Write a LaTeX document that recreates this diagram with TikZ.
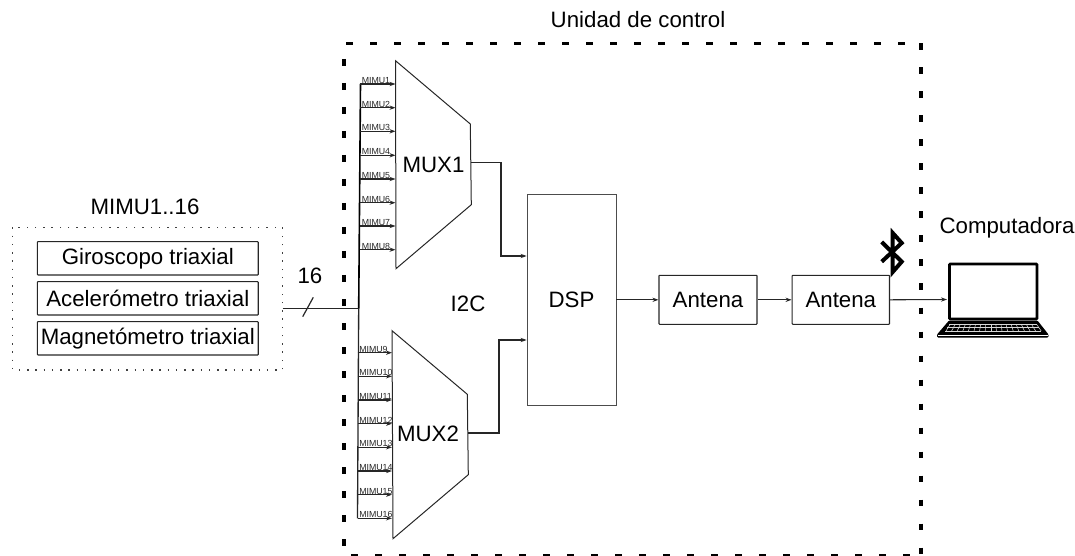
\documentclass[tikz,border=0pt]{standalone}
\usepackage{fontspec}
\setmainfont{Liberation Sans}
\usetikzlibrary{arrows.meta}
\tikzset{
  txt/.style={font=\fontsize{16.7}{18}\selectfont,inner sep=0pt},
  tiny/.style={font=\fontsize{6.6}{7}\selectfont,inner sep=0pt,text=black!85},
  blockbox/.style={draw=black!85,line width=0.8pt,rounded corners=0.5pt,txt,anchor=center},
  arrow/.style={line width=0.8pt,black!85,-{Stealth[length=4.5pt,width=3.2pt]}},
  wire/.style={line width=0.9pt,black!85},
  ctrl/.style={line width=2.6pt,dash pattern=on 5.2pt off 12.8pt}
}
\begin{document}
\begin{tikzpicture}[x=0.75pt,y=-0.75pt]
  \useasboundingbox (0,0) rectangle (1075,556);
  \draw[ctrl] (346,43.5) -- (921,43.5);
  \draw[ctrl] (921,43.5) -- (921,556);
  \draw[ctrl] (344,59) -- (344,556);
  \draw[ctrl] (351,555.5) -- (921,555.5);
  \node[txt] (control) at (638,20) {Unidad de control};
  \draw[black!75,line width=0.8pt,dash pattern=on 1.1pt off 5.1pt] (12.7,227.3) rectangle (282.7,370);
  \coordinate (mimuout) at (282.7,308.5);
  \node[txt] (mimu) at (145,207) {MIMU1..16};
  \node[blockbox,minimum width=165.7pt,minimum height=25pt] (giro) at (147.8,258.3) {Giroscopo triaxial};
  \node[blockbox,minimum width=165.7pt,minimum height=25pt] (acel) at (147.8,298.3) {Acelerómetro triaxial};
  \node[blockbox,minimum width=165.7pt,minimum height=25pt] (magn) at (147.8,338.3) {Magnetómetro triaxial};
  \coordinate (join) at (358.7,308.5);
  \coordinate (top) at (360.5,84);
  \coordinate (bot) at (357.5,518.3);
  \draw[wire] (mimuout) -- (join);
  \draw[line width=1.2pt] (join) -- (top);
  \draw[line width=1pt,black!85] (join) -- (bot);
  \coordinate (slasha) at (302.7,316.7);
  \coordinate (slashb) at (313.3,297.3);
  \draw[wire] (slasha) -- (slashb);
  \node[txt] (bus) at (310,276) {16};
  \node[txt] (i2c) at (468,304) {I2C};
  \foreach \y [count=\i] in {84,107.7,131.3,155.3,179,202.7,226,249.7} {
    \coordinate (a\i) at (360,\y);
    \coordinate (b\i) at (395.5,\y);
    \draw[arrow] (a\i) -- (b\i);
    \node[tiny,anchor=south west] (l\i) at (361.5,\y-0.3) {MIMU\i};
  }
  \foreach \y [count=\i from 9] in {352.7,376.3,400,423.7,447.3,471,494.7,518.3} {
    \coordinate (a\i) at (357.5,\y);
    \coordinate (b\i) at (392,\y);
    \draw[arrow] (a\i) -- (b\i);
    \node[tiny,anchor=south west] (l\i) at (359,\y-0.3) {MIMU\i};
  }
  \draw[line width=0.75pt,black!85] (395.5,60.7) -- (470.3,124) -- (471.3,204.7) -- (396,268.7) -- cycle;
  \draw[line width=0.75pt,black!85] (392,330.7) -- (467.3,394.3) -- (468.3,474.7) -- (393,538.7) -- cycle;
  \node[txt] (mux1) at (433.5,165) {MUX1};
  \node[txt] (mux2) at (428,434) {MUX2};
  \coordinate (out1) at (470.7,162.7);
  \coordinate (out2) at (468,433);
  \node[draw=black!70,line width=0.6pt,minimum width=66.75pt,minimum height=158.25pt,txt] (dsp) at (571.5,299.5) {DSP};
  \draw[arrow] (out1) -- (501,162.7) |- (dsp.west |- 0,256);
  \draw[arrow] (out2) -- (499,433) |- (dsp.west |- 0,340);
  \node[blockbox,minimum width=73.5pt,minimum height=36.75pt] (ant1) at (708,299.8) {Antena};
  \node[blockbox,minimum width=73pt,minimum height=36.75pt] (ant2) at (840.8,299.8) {Antena};
  \draw[arrow] (dsp.east |- ant1) -- (ant1);
  \draw[arrow] (ant1) -- (ant2);
  \coordinate (laptop) at (947,299.5);
  \draw[arrow] (ant2.east) -- (laptop);
  \node[txt] (comp) at (1007,228) {Computadora};
  \draw[line width=3pt,miter limit=6] (881.7,242) -- (901.7,261.7) -- (892.7,272) -- (892.7,233) -- (901.7,243) -- (881.7,261.7);
  \draw[line width=2pt,rounded corners=0.5pt] (949.5,264) rectangle (1037,319);
  \fill[rounded corners=0.8pt] (949,320.5) -- (1037.5,320.5) -- (1048.5,334.5) -- (1048.5,337.5) -- (937,337.5) -- (937,334.5) -- cycle;
  \draw[white,line width=0.4pt] (938,335) -- (1048,335);
  \draw[black!15,line width=0.4pt] (949,324.5) -- (1037,324.5) (947,327.5) -- (1039,327.5) (945,331) -- (1041,331);
  \foreach \k in {0,...,17} {
    \draw[black!15,line width=0.4pt] (950+\k*5.1,324.5) -- (946+\k*5.6,331);
  }
\end{tikzpicture}
\end{document}
